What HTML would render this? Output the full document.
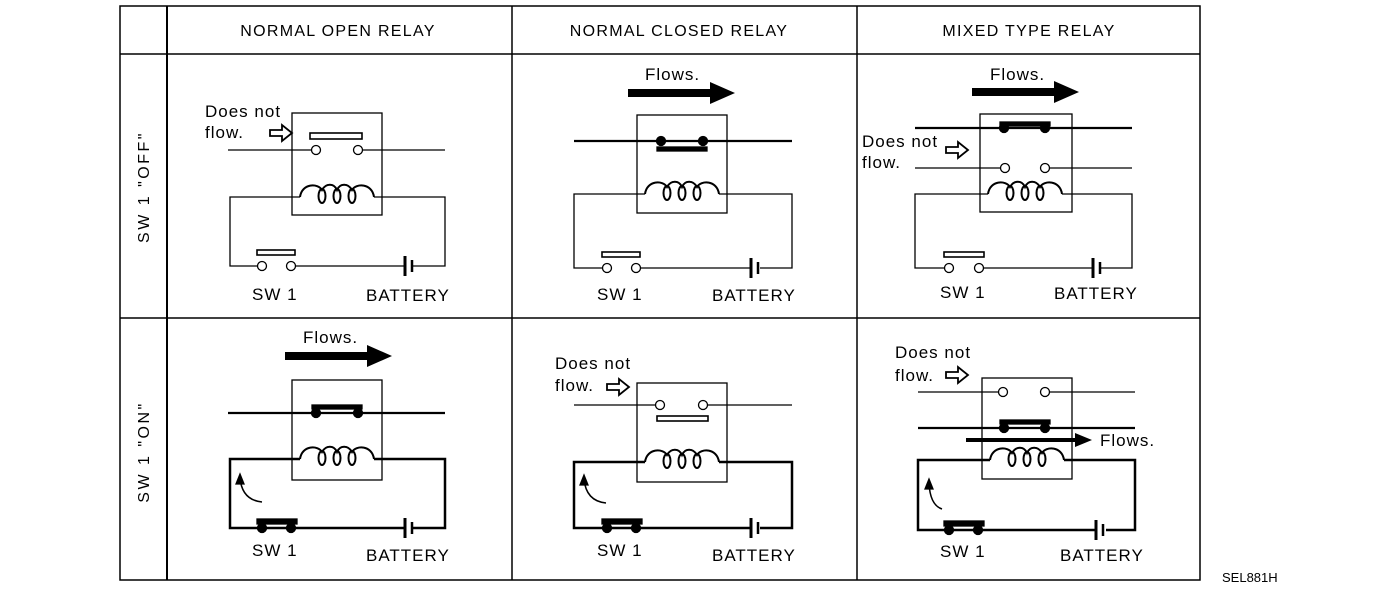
<!DOCTYPE html>
<html><head><meta charset="utf-8"><style>
html,body{margin:0;padding:0;background:#fff;width:1376px;height:600px;overflow:hidden}
svg{display:block}
text{font-family:"Liberation Sans",Arial,sans-serif;fill:#000}
</style></head><body>
<svg width="1376" height="600" viewBox="0 0 1376 600" xmlns="http://www.w3.org/2000/svg">
<defs>
<g id="coil"><path d="M0 0 C2 -14 18 -14 22 -7 C26 -14 34 -14 37 -7 C40 -14 48 -14 52 -7 C56 -14 72 -14 74 0" fill="none" stroke="#000" stroke-width="2"/>
<ellipse cx="22" cy="-1" rx="3.5" ry="7" fill="none" stroke="#000" stroke-width="2"/>
<ellipse cx="37" cy="-1" rx="3.5" ry="7" fill="none" stroke="#000" stroke-width="2"/>
<ellipse cx="52" cy="-1" rx="3.5" ry="7" fill="none" stroke="#000" stroke-width="2"/></g>
<g id="hollow"><path d="M0 -3 L12 -3 L12 -8 L22 0 L12 8 L12 3 L0 3 Z" fill="#fff" stroke="#000" stroke-width="1.8"/></g>
<g id="bigarrow"><path d="M0 -4 L82 -4 L82 -11 L107 0 L82 11 L82 4 L0 4 Z" fill="#000"/></g>
</defs>
<g stroke="#000" fill="none">
<rect x="120" y="6" width="1080" height="574" stroke-width="1.5"/>
<line x1="167" y1="6" x2="167" y2="580" stroke-width="2"/>
<line x1="512" y1="6" x2="512" y2="580" stroke-width="1.5"/>
<line x1="857" y1="6" x2="857" y2="580" stroke-width="1.5"/>
<line x1="120" y1="54" x2="1200" y2="54" stroke-width="1.5"/>
<line x1="120" y1="318" x2="1200" y2="318" stroke-width="1.5"/>
</g>
<g font-size="16" text-anchor="middle" letter-spacing="1.3">
<text x="338" y="36">NORMAL OPEN RELAY</text>
<text x="679" y="36">NORMAL CLOSED RELAY</text>
<text x="1029" y="36">MIXED TYPE RELAY</text>
</g>
<g font-size="16" text-anchor="middle" letter-spacing="2.5">
<text transform="translate(149,187) rotate(-90)">SW 1 "OFF"</text>
<text transform="translate(149,452) rotate(-90)">SW 1 "ON"</text>
</g>
<text x="1222" y="582" font-size="13">SEL881H</text>

<g font-size="17" letter-spacing="1">
<!-- C1R1 -->
<g stroke="#000" fill="none" stroke-width="1.3">
<rect x="292" y="113" width="90" height="102"/>
<line x1="228" y1="150" x2="311" y2="150"/><line x1="363" y1="150" x2="445" y2="150"/>
<circle cx="316" cy="150" r="4.5" fill="#fff"/><circle cx="358" cy="150" r="4.5" fill="#fff"/>
<rect x="310" y="133" width="52" height="6" stroke-width="1.6"/>
<polyline points="300,197 230,197 230,266 258,266"/><polyline points="374,197 445,197 445,266 413,266"/>
<line x1="296" y1="266" x2="404" y2="266"/>
<circle cx="262" cy="266" r="4.5" fill="#fff"/><circle cx="291" cy="266" r="4.5" fill="#fff"/>
<rect x="257" y="250" width="38" height="5" stroke-width="1.6"/>
<line x1="405" y1="256" x2="405" y2="276" stroke-width="3"/><line x1="412" y1="260" x2="412" y2="272" stroke-width="2.5"/>
</g>
<use href="#coil" x="300" y="197"/>
<use href="#hollow" x="270" y="133"/>
<text x="205" y="117">Does not</text><text x="205" y="138">flow.</text>
<text x="252" y="300">SW 1</text><text x="366" y="301">BATTERY</text>

<!-- C2R1 -->
<g stroke="#000" fill="none" stroke-width="1.3">
<rect x="637" y="115" width="90" height="98"/>
<line x1="574" y1="141" x2="792" y2="141" stroke-width="2.2"/>
<circle cx="661" cy="141" r="4.5" fill="#000"/><circle cx="703" cy="141" r="4.5" fill="#000"/>
<rect x="657" y="147" width="50" height="4" fill="#000"/>
<polyline points="645,194 574,194 574,268 603,268"/><polyline points="719,194 792,194 792,268 760,268"/>
<line x1="641" y1="268" x2="750" y2="268"/>
<circle cx="607" cy="268" r="4.5" fill="#fff"/><circle cx="636" cy="268" r="4.5" fill="#fff"/>
<rect x="602" y="252" width="38" height="5" stroke-width="1.6"/>
<line x1="751" y1="258" x2="751" y2="278" stroke-width="3"/><line x1="758" y1="262" x2="758" y2="274" stroke-width="2.5"/>
</g>
<use href="#coil" x="645" y="194"/>
<use href="#bigarrow" x="628" y="93"/>
<text x="645" y="80">Flows.</text>
<text x="597" y="300">SW 1</text><text x="712" y="301">BATTERY</text>

<!-- C3R1 -->
<g stroke="#000" fill="none" stroke-width="1.3">
<rect x="980" y="114" width="92" height="98"/>
<line x1="915" y1="128" x2="1132" y2="128" stroke-width="2.2"/>
<circle cx="1004" cy="128" r="4.5" fill="#000"/><circle cx="1045" cy="128" r="4.5" fill="#000"/>
<rect x="1000" y="122" width="50" height="4" fill="#000"/>
<line x1="915" y1="168" x2="1000" y2="168"/><line x1="1050" y1="168" x2="1132" y2="168"/>
<circle cx="1005" cy="168" r="4.5" fill="#fff"/><circle cx="1045" cy="168" r="4.5" fill="#fff"/>
<polyline points="988,194 915,194 915,268 945,268"/><polyline points="1062,194 1132,194 1132,268 1100,268"/>
<line x1="983" y1="268" x2="1092" y2="268"/>
<circle cx="949" cy="268" r="4.5" fill="#fff"/><circle cx="979" cy="268" r="4.5" fill="#fff"/>
<rect x="944" y="252" width="40" height="5" stroke-width="1.6"/>
<line x1="1093" y1="258" x2="1093" y2="278" stroke-width="3"/><line x1="1100" y1="262" x2="1100" y2="274" stroke-width="2.5"/>
</g>
<use href="#coil" x="988" y="194"/>
<use href="#bigarrow" x="972" y="92"/>
<use href="#hollow" x="946" y="150"/>
<text x="990" y="80">Flows.</text><text x="862" y="147">Does not</text><text x="862" y="168">flow.</text>
<text x="940" y="298">SW 1</text><text x="1054" y="299">BATTERY</text>

<!-- C1R2 -->
<g stroke="#000" fill="none" stroke-width="1.3">
<rect x="292" y="380" width="90" height="100"/>
<line x1="228" y1="413" x2="445" y2="413" stroke-width="2.2"/>
<circle cx="316" cy="413" r="4.5" fill="#000"/><circle cx="358" cy="413" r="4.5" fill="#000"/>
<rect x="312" y="405" width="50" height="4" fill="#000"/>
<g stroke-width="2.5"><polyline points="300,459 230,459 230,528 296,528"/><polyline points="374,459 445,459 445,528 413,528"/>
<line x1="296" y1="528" x2="404" y2="528"/></g>
<circle cx="262" cy="528" r="4.5" fill="#000"/><circle cx="291" cy="528" r="4.5" fill="#000"/>
<rect x="257" y="519" width="40" height="5" fill="#000"/>
<line x1="405" y1="518" x2="405" y2="538" stroke-width="3"/><line x1="412" y1="522" x2="412" y2="534" stroke-width="2.5"/>
<path d="M262 502 Q242 500 240 478" stroke-width="1.5"/><path d="M236 484 L240 474 L244 484 Z" fill="#000"/>
</g>
<use href="#coil" x="300" y="459"/>
<use href="#bigarrow" x="285" y="356"/>
<text x="303" y="343">Flows.</text>
<text x="252" y="556">SW 1</text><text x="366" y="561">BATTERY</text>

<!-- C2R2 -->
<g stroke="#000" fill="none" stroke-width="1.3">
<rect x="637" y="383" width="90" height="99"/>
<line x1="574" y1="405" x2="656" y2="405"/><line x1="708" y1="405" x2="792" y2="405"/>
<circle cx="660" cy="405" r="4.5" fill="#fff"/><circle cx="703" cy="405" r="4.5" fill="#fff"/>
<rect x="657" y="416" width="51" height="5" stroke-width="1.6"/>
<g stroke-width="2.5"><polyline points="645,462 574,462 574,528 640,528"/><polyline points="719,462 792,462 792,528 760,528"/>
<line x1="640" y1="528" x2="750" y2="528"/></g>
<circle cx="607" cy="528" r="4.5" fill="#000"/><circle cx="636" cy="528" r="4.5" fill="#000"/>
<rect x="602" y="519" width="40" height="5" fill="#000"/>
<line x1="751" y1="518" x2="751" y2="538" stroke-width="3"/><line x1="758" y1="522" x2="758" y2="534" stroke-width="2.5"/>
<path d="M606 503 Q586 501 584 479" stroke-width="1.5"/><path d="M580 485 L584 475 L588 485 Z" fill="#000"/>
</g>
<use href="#coil" x="645" y="462"/>
<use href="#hollow" x="607" y="387"/>
<text x="555" y="369">Does not</text><text x="555" y="391">flow.</text>
<text x="597" y="556">SW 1</text><text x="712" y="561">BATTERY</text>

<!-- C3R2 -->
<g stroke="#000" fill="none" stroke-width="1.3">
<rect x="982" y="378" width="90" height="101"/>
<line x1="918" y1="392" x2="998" y2="392"/><line x1="1050" y1="392" x2="1135" y2="392"/>
<circle cx="1003" cy="392" r="4.5" fill="#fff"/><circle cx="1045" cy="392" r="4.5" fill="#fff"/>
<line x1="918" y1="428" x2="1135" y2="428" stroke-width="2.2"/>
<circle cx="1004" cy="428" r="4.5" fill="#000"/><circle cx="1045" cy="428" r="4.5" fill="#000"/>
<rect x="1000" y="420" width="50" height="4" fill="#000"/>
<g stroke-width="2.5"><polyline points="990,460 918,460 918,530 985,530"/><polyline points="1064,460 1135,460 1135,530 1106,530"/>
<line x1="985" y1="530" x2="1095" y2="530"/></g>
<circle cx="949" cy="530" r="4.5" fill="#000"/><circle cx="978" cy="530" r="4.5" fill="#000"/>
<rect x="944" y="521" width="40" height="5" fill="#000"/>
<line x1="1096" y1="520" x2="1096" y2="540" stroke-width="3"/><line x1="1103" y1="524" x2="1103" y2="536" stroke-width="2.5"/>
<path d="M942 509 Q930 505 929 483" stroke-width="1.5"/><path d="M925 489 L929 479 L933 489 Z" fill="#000"/>
</g>
<use href="#coil" x="990" y="460"/>
<path d="M966 438 L1075 438 L1075 433 L1092 440 L1075 447 L1075 442 L966 442 Z" fill="#000"/>
<use href="#hollow" x="946" y="375"/>
<text x="895" y="358">Does not</text><text x="895" y="381">flow.</text><text x="1100" y="446">Flows.</text>
<text x="940" y="557">SW 1</text><text x="1060" y="561">BATTERY</text>
</g>
</svg>
</body></html>
